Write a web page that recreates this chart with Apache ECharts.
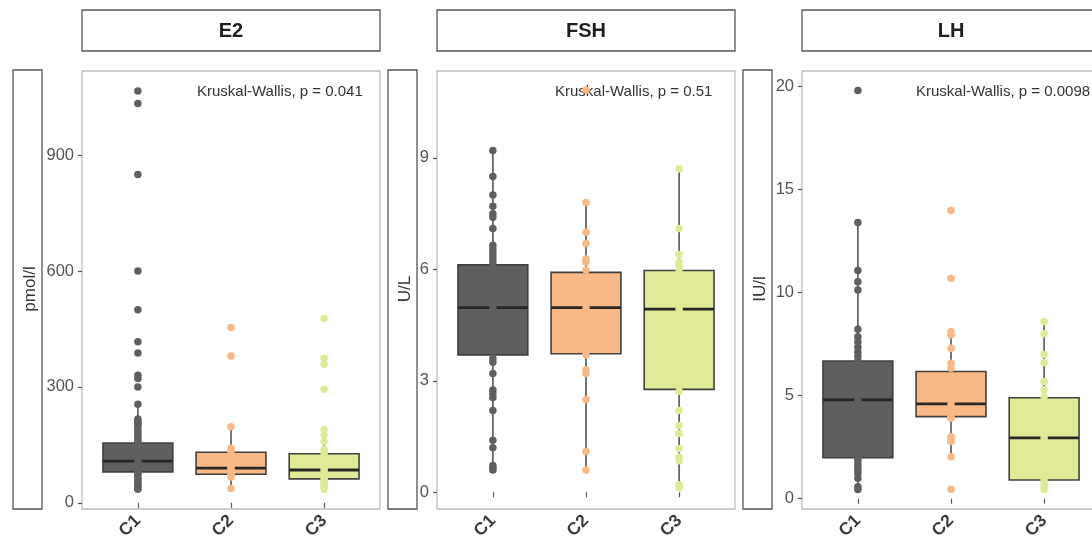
<!DOCTYPE html>
<html>
<head>
<meta charset="utf-8">
<script src="https://cdn.jsdelivr.net/npm/echarts@6/dist/echarts.min.js"></script>
<style>
  html, body { margin: 0; padding: 0; background: #ffffff; }
  #chart { width: 1092px; height: 540px; }
</style>
</head>
<body>
<div id="chart"></div>
<script>
// ---- data ----
const groups = ['C1', 'C2', 'C3'];
const panelNames = ['E2', 'FSH', 'LH'];
const unitNames = ['pmol/l', 'U/L', 'IU/l'];
const testLabels = ['Kruskal-Wallis, p = 0.041', 'Kruskal-Wallis, p = 0.51', 'Kruskal-Wallis, p = 0.0098'];

// y tick labels per panel
const e2Ticks = [0, 300, 600, 900];
const fshTicks = [0, 3, 6, 9];
const lhTicks = [0, 5, 10, 15, 20];

// box statistics per group: [lower whisker, Q1, median, Q3, upper whisker]
const e2Stats = [[35, 80, 108, 155, 255], [37, 74, 90, 131, 197], [35, 62, 85, 127, 190]];
const fshStats = [[0.6, 3.7, 4.97, 6.12, 9.2], [0.6, 3.73, 4.97, 5.92, 7.8], [0.12, 2.77, 4.93, 5.97, 8.7]];
const lhStats = [[0.45, 1.99, 4.79, 6.68, 13.4], [2.04, 3.98, 4.6, 6.17, 8.1], [0.45, 0.91, 2.95, 4.9, 8.6]];

// individual measurements
const e2C1 = [1066, 1034, 850, 600, 500, 417, 388, 330, 322, 300, 255, 217, 212, 207, 202, 197,
  188, 180, 173, 166, 160, 155, 148, 140, 132, 124, 116, 108, 100, 92, 84, 76, 70, 64, 58, 52, 47, 42, 38, 35];
const e2C2 = [454, 380, 197, 141, 136, 128, 120, 112, 104, 96, 90, 84, 78, 72, 67, 37];
const e2C3 = [477, 374, 359, 294, 190, 175, 158, 138, 130, 122, 115, 108, 100, 92, 85, 78, 70, 63, 57, 50, 45, 40, 35];

const fshC1 = [9.2, 8.5, 8.0, 7.7, 7.5, 7.4, 7.1, 6.65, 6.55, 6.45, 6.35, 6.25, 6.15, 5.9, 5.6, 5.3, 4.97,
  4.7, 4.4, 4.1, 3.8, 3.6, 3.5, 3.2, 2.75, 2.65, 2.55, 2.2, 1.4, 1.2, 0.72, 0.65, 0.6];
const fshC2 = [10.83, 7.8, 7.0, 6.7, 6.28, 6.2, 5.98, 5.7, 5.3, 4.97, 4.6, 4.2, 3.7, 3.3, 3.2, 2.5, 1.1, 0.6];
const fshC3 = [8.7, 7.1, 6.4, 6.2, 6.1, 6.0, 5.5, 5.1, 4.93, 4.5, 4.0, 3.5, 3.0, 2.72, 2.2, 1.8, 1.58,
  1.18, 0.95, 0.85, 0.2, 0.12];

const lhC1 = [19.8, 13.4, 11.07, 10.53, 10.13, 8.22, 7.86, 7.6, 7.35, 7.1, 6.9, 6.68, 6.3, 5.8, 5.3, 4.79,
  4.3, 3.7, 3.1, 2.5, 2.0, 1.88, 1.7, 1.55, 1.4, 1.23, 0.99, 0.58, 0.45];
const lhC2 = [13.98, 10.7, 8.1, 7.95, 7.3, 6.57, 6.33, 5.8, 5.2, 4.6, 4.2, 3.98, 3.9, 3.0, 2.85, 2.77, 2.04, 0.46];
const lhC3 = [8.6, 8.0, 7.0, 6.6, 5.68, 5.28, 4.95, 4.4, 3.8, 3.3, 2.95, 2.5, 2.0, 1.5, 1.1, 0.91, 0.76, 0.6, 0.45];

// ---- layout & style ----
const FONT = '"Liberation Sans", Arial, Helvetica, sans-serif';
const groupColors = ['#5f5f5f', '#F8B986', '#E0EA96'];
const panels = [
  { stats: e2Stats, points: [e2C1, e2C2, e2C3], ticks: e2Ticks, min: -16, max: 1118, left: 82, strip: 13, textX: 197 },
  { stats: fshStats, points: [fshC1, fshC2, fshC3], ticks: fshTicks, min: -0.45, max: 11.34, left: 437, strip: 388, textX: 555 },
  { stats: lhStats, points: [lhC1, lhC2, lhC3], ticks: lhTicks, min: -0.5, max: 20.75, left: 802, strip: 743, textX: 916 }
];
const PLOT_TOP = 71, PLOT_H = 438, PLOT_W = 298;
const BOX_HALF = 0.375;

function renderBox(params, api) {
  const x = api.value(0);
  const lo = api.coord([x, api.value(1)]);
  const q1 = api.coord([x, api.value(2)]);
  const md = api.coord([x, api.value(3)]);
  const q3 = api.coord([x, api.value(4)]);
  const hi = api.coord([x, api.value(5)]);
  const left = api.coord([x - BOX_HALF, api.value(3)])[0];
  const right = api.coord([x + BOX_HALF, api.value(3)])[0];
  const fill = groupColors[params.dataIndex];
  return {
    type: 'group',
    children: [
      { type: 'line', shape: { x1: lo[0], y1: lo[1], x2: hi[0], y2: hi[1] },
        style: { stroke: '#666666', lineWidth: 1.8 } },
      { type: 'rect', shape: { x: left, y: q3[1], width: right - left, height: q1[1] - q3[1] },
        style: { fill: fill, stroke: '#404040', lineWidth: 1.6 } },
      { type: 'line', shape: { x1: left, y1: md[1], x2: right, y2: md[1] },
        style: { stroke: '#262626', lineWidth: 2.8 } }
    ]
  };
}

const grids = [], xAxes = [], yAxes = [], series = [], graphics = [];

panels.forEach((p, k) => {
  grids.push({ left: p.left, top: PLOT_TOP, width: PLOT_W, height: PLOT_H,
    outerBoundsMode: 'none', containLabel: false,
    show: true, borderColor: '#bdbdbd', borderWidth: 1.3, backgroundColor: '#ffffff' });

  xAxes.push({
    type: 'value', gridIndex: k, min: 0.4, max: 3.6,
    splitLine: { show: false },
    axisLine: { show: false },
    axisTick: { show: true, customValues: [1, 2, 3], length: 5, lineStyle: { color: '#555', width: 1.2 } },
    axisLabel: {
      customValues: [1, 2, 3], formatter: v => groups[Math.round(v) - 1],
      rotate: 45, margin: 9, fontSize: 17.5, fontWeight: 'bold', color: '#3a3a3a', fontFamily: FONT
    }
  });

  yAxes.push({
    type: 'value', gridIndex: k, min: p.min, max: p.max,
    splitLine: { show: false },
    axisLine: { show: false },
    axisTick: { show: true, customValues: p.ticks, length: 4, lineStyle: { color: '#555', width: 1.2 } },
    axisLabel: { customValues: p.ticks, margin: 8, fontSize: 16.5, color: '#555', fontFamily: FONT }
  });

  series.push({
    type: 'custom', xAxisIndex: k, yAxisIndex: k,
    renderItem: renderBox,
    encode: { x: 0, y: [1, 2, 3, 4, 5] },
    data: p.stats.map((s, i) => [i + 1].concat(s)),
    clip: true, z: 2
  });

  p.points.forEach((vals, i) => {
    series.push({
      type: 'scatter', xAxisIndex: k, yAxisIndex: k,
      symbol: 'circle', symbolSize: 7.5,
      itemStyle: { color: groupColors[i], opacity: 1 },
      data: vals.map(v => [i + 1, v]),
      z: 3, silent: true
    });
  });

  // facet strip on top
  graphics.push({
    type: 'rect', shape: { x: p.left, y: 10, width: PLOT_W, height: 41 },
    style: { fill: '#ffffff', stroke: '#555555', lineWidth: 1.3 }
  });
  graphics.push({
    type: 'text', x: p.left + PLOT_W / 2, y: 31,
    style: { text: panelNames[k], font: 'bold 20px ' + FONT, fill: '#1e1e1e', align: 'center', verticalAlign: 'middle' }
  });
  // unit strip on the left
  graphics.push({
    type: 'rect', shape: { x: p.strip, y: 70, width: 29, height: 439 },
    style: { fill: '#ffffff', stroke: '#555555', lineWidth: 1.3 }
  });
  graphics.push({
    type: 'text', x: p.strip + 17.5, y: 289, rotation: Math.PI / 2,
    style: { text: unitNames[k], font: '17px ' + FONT, fill: '#333333', align: 'center', verticalAlign: 'middle' }
  });
  // test annotation
  graphics.push({
    type: 'text', x: p.textX, y: 92,
    style: { text: testLabels[k], font: '15px ' + FONT, fill: '#333333', align: 'left', verticalAlign: 'middle' }
  });
});

const chart = echarts.init(document.getElementById('chart'), null, { renderer: 'canvas' });
chart.setOption({
  backgroundColor: '#ffffff',
  animation: false,
  grid: grids,
  xAxis: xAxes,
  yAxis: yAxes,
  series: series,
  graphic: graphics
});
</script>
</body>
</html>
